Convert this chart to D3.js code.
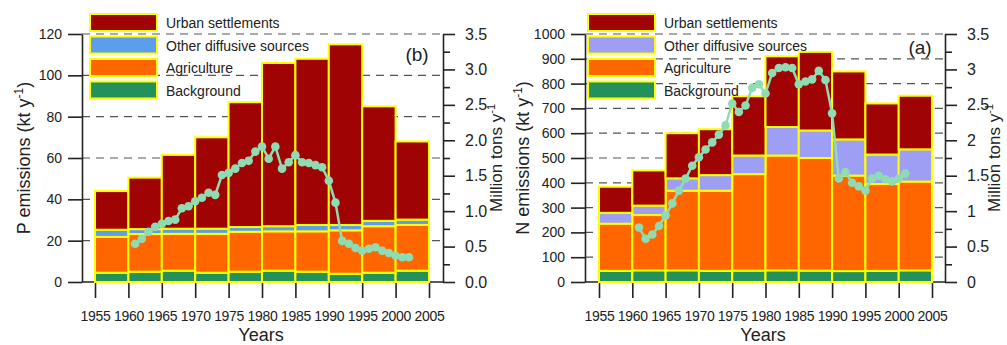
<!DOCTYPE html>
<html>
<head>
<meta charset="utf-8">
<script src="https://cdn.jsdelivr.net/npm/d3@7"></script>
<style>
  body { margin: 0; background: #fff; }
  svg { display: block; }
  text { font-family: "Liberation Sans", Arial, sans-serif; fill: #222; }
</style>
</head>
<body>
<svg id="chart" width="1007" height="345"></svg>
<script>
// Five-year periods (bar start years) and axis tick years
const periods = [1955, 1960, 1965, 1970, 1975, 1980, 1985, 1990, 1995, 2000];
const xTickYears = [1955, 1960, 1965, 1970, 1975, 1980, 1985, 1990, 1995, 2000, 2005];

// Source names, bottom to top of each stack
const sourceKeys = ["Background", "Agriculture", "Other diffusive sources", "Urban settlements"];
const legendOrder = ["Urban settlements", "Other diffusive sources", "Agriculture", "Background"];

// Phosphorus emissions per period (kt/y)
const P_background  = [4.5, 5, 5.5, 4.5, 5, 5.5, 5, 4, 4.5, 5.5];
const P_agriculture = [17.3, 18.2, 17.8, 18.8, 19.3, 19, 19.5, 21, 22.5, 22.1];
const P_other       = [3.5, 2.4, 2.5, 2.5, 2.3, 2.5, 3.1, 2.6, 2.6, 2.6];
const P_urban       = [18.7, 24.9, 35.7, 44.2, 60.4, 79, 80.4, 87.4, 55.4, 37.8];

// Nitrogen emissions per period (kt/y)
const N_background  = [45, 47, 47, 45, 46, 47, 46, 44, 45, 47];
const N_agriculture = [190, 223, 321, 323, 389, 463, 454, 385, 350, 358];
const N_other       = [44, 38, 50, 63, 75, 115, 111, 146, 119, 130];
const N_urban       = [105, 142, 182, 185, 239, 285, 317, 274, 206, 216];

// Annual fertilizer series (million tons/y), one value per year from 1961
const P_lineStart = 1961;
const P_line = [0.54, 0.61, 0.71, 0.78, 0.82, 0.86, 0.88, 1.04, 1.07, 1.14,
                1.19, 1.26, 1.23, 1.51, 1.54, 1.60, 1.68, 1.71, 1.84, 1.91,
                1.74, 1.91, 1.60, 1.69, 1.79, 1.69, 1.68, 1.65, 1.62, 1.43,
                1.12, 0.58, 0.54, 0.48, 0.44, 0.47, 0.49, 0.44, 0.41, 0.37,
                0.35, 0.35];
const N_lineStart = 1961;
const N_line = [0.77, 0.61, 0.67, 0.79, 0.94, 1.11, 1.29, 1.46, 1.64, 1.76,
                1.87, 1.97, 2.08, 2.21, 2.52, 2.40, 2.49, 2.74, 2.79, 2.66,
                2.95, 3.02, 3.03, 3.02, 2.79, 2.83, 2.86, 2.98, 2.85, 2.38,
                1.46, 1.55, 1.40, 1.35, 1.29, 1.46, 1.50, 1.45, 1.42, 1.46,
                1.53];

// Right-axis ticks (million tons/y)
const rightMajor = [0, 0.5, 1, 1.5, 2, 2.5, 3, 3.5];
const rightMinor = [0.25, 0.75, 1.25, 1.75, 2.25, 2.75, 3.25];

const svg = d3.select("#chart");
const yBottom = 282, yTop = 34;

function drawPanel(cfg) {
  const g = svg.append("g");
  const x = d3.scaleLinear().domain([1955, 2005]).range([cfg.xStart, cfg.xEnd]);
  const y = d3.scaleLinear().domain([0, cfg.yMax]).range([yBottom, yTop]);
  const y2 = d3.scaleLinear().domain([0, 3.5]).range([yBottom, yTop]);

  // dashed horizontal grid
  g.append("g").selectAll("line").data(cfg.leftTicks.filter(d => d > 0)).join("line")
    .attr("x1", cfg.axisLeftX).attr("x2", cfg.axisRightX)
    .attr("y1", d => y(d)).attr("y2", d => y(d))
    .attr("stroke", "#555").attr("stroke-width", 1.2).attr("stroke-dasharray", "8,6");

  // x axis
  const xAx = g.append("g").attr("transform", `translate(0,${yBottom})`)
    .call(d3.axisBottom(x).tickValues(xTickYears).tickFormat(d3.format("d"))
      .tickSize(16).tickPadding(13).tickSizeOuter(0));
  xAx.select(".domain").remove();
  xAx.selectAll(".tick line").attr("stroke", "#222").attr("stroke-width", 1.6);
  xAx.selectAll("text").attr("font-size", 14).attr("fill", "#222").attr("letter-spacing", -0.3);
  g.append("line").attr("x1", cfg.axisLeftX).attr("x2", cfg.axisRightX)
    .attr("y1", yBottom).attr("y2", yBottom).attr("stroke", "#222").attr("stroke-width", 1.6);

  // stacked bars
  const rows = periods.map((p, i) => ({
    period: p,
    "Background": cfg.background[i],
    "Agriculture": cfg.agriculture[i],
    "Other diffusive sources": cfg.other[i],
    "Urban settlements": cfg.urban[i]
  }));
  const stacked = d3.stack().keys(sourceKeys)(rows);
  g.append("g").selectAll("g").data(stacked).join("g")
    .attr("fill", d => cfg.colors[d.key])
    .selectAll("rect").data(d => d).join("rect")
    .attr("x", d => x(d.data.period))
    .attr("width", d => x(d.data.period + 5) - x(d.data.period))
    .attr("y", d => y(d[1]))
    .attr("height", d => y(d[0]) - y(d[1]))
    .attr("stroke", "#ffff00").attr("stroke-width", 2);

  // left axis
  const yAx = g.append("g").attr("transform", `translate(${cfg.axisLeftX},0)`)
    .call(d3.axisLeft(y).tickValues(cfg.leftTicks).tickFormat(d3.format("d"))
      .tickSize(14).tickPadding(6).tickSizeOuter(0));
  yAx.select(".domain").attr("stroke", "#222").attr("stroke-width", 1.6);
  yAx.selectAll(".tick line").attr("stroke", "#222").attr("stroke-width", 1.6);
  yAx.selectAll("text").attr("font-size", 14).attr("fill", "#222");

  // right axis (million tons)
  const rAx = g.append("g").attr("transform", `translate(${cfg.axisRightX},0)`)
    .call(d3.axisRight(y2).tickValues(rightMajor).tickFormat(cfg.rightFormat)
      .tickSize(12).tickPadding(10).tickSizeOuter(0));
  rAx.select(".domain").attr("stroke", "#222").attr("stroke-width", 1.6);
  rAx.selectAll(".tick line").attr("stroke", "#222").attr("stroke-width", 1.6);
  rAx.selectAll("text").attr("font-size", 16).attr("fill", "#222");
  const rMin = g.append("g").attr("transform", `translate(${cfg.axisRightX},0)`)
    .call(d3.axisRight(y2).tickValues(rightMinor).tickFormat("").tickSize(7).tickSizeOuter(0));
  rMin.select(".domain").remove();
  rMin.selectAll(".tick line").attr("stroke", "#222").attr("stroke-width", 1.6);

  // annual line with markers
  const pts = cfg.line.map((v, i) => ({ year: cfg.lineStart + i, v }));
  g.append("path").datum(pts)
    .attr("fill", "none").attr("stroke", "#8fdcb4").attr("stroke-width", 2.5)
    .attr("d", d3.line().x(d => x(d.year)).y(d => y2(d.v)));
  g.append("g").selectAll("circle").data(pts).join("circle")
    .attr("cx", d => x(d.year)).attr("cy", d => y2(d.v)).attr("r", 4.3)
    .attr("fill", "#8fdcb4");

  // legend
  const lg = g.append("g");
  legendOrder.forEach((k, i) => {
    const ly = 14 + i * 22.5;
    lg.append("rect").attr("x", cfg.legendX).attr("y", ly).attr("width", 67).attr("height", 17)
      .attr("fill", cfg.colors[k]).attr("stroke", "#ffff00").attr("stroke-width", 2);
    lg.append("text").attr("x", cfg.legendX + 76).attr("y", ly + 14)
      .attr("font-size", 14).text(k);
  });

  // panel tag
  g.append("text").attr("x", cfg.tagX).attr("y", cfg.tagY).attr("text-anchor", "middle")
    .attr("font-size", 19).text(cfg.tag);

  // axis titles
  const lt = g.append("text").attr("transform", `translate(${cfg.leftTitleX},158) rotate(-90)`)
    .attr("text-anchor", "middle").attr("y", 6).attr("font-size", 18);
  lt.append("tspan").text(cfg.leftTitle + " (kt y");
  lt.append("tspan").attr("dy", -7).attr("font-size", 12).text("-1");
  lt.append("tspan").attr("dy", 7).text(")");

  const rt = g.append("text").attr("transform", `translate(${cfg.rightTitleX},158) rotate(-90)`)
    .attr("text-anchor", "middle").attr("y", 6).attr("font-size", 17);
  rt.append("tspan").text("Million tons y");
  rt.append("tspan").attr("dy", -7).attr("font-size", 11).text("-1");

  g.append("text").attr("x", cfg.yearsX).attr("y", 341).attr("text-anchor", "middle")
    .attr("font-size", 18).text("Years");
}

drawPanel({
  xStart: 95, xEnd: 429, axisLeftX: 82, axisRightX: 443,
  yMax: 120, leftTicks: [0, 20, 40, 60, 80, 100, 120],
  background: P_background, agriculture: P_agriculture, other: P_other, urban: P_urban,
  colors: { "Background": "#23915a", "Agriculture": "#ff6600",
            "Other diffusive sources": "#5c9ded", "Urban settlements": "#a00303" },
  rightFormat: d3.format(".1f"),
  line: P_line, lineStart: P_lineStart,
  legendX: 90, tag: "(b)", tagX: 417, tagY: 61,
  leftTitle: "P emissions", leftTitleX: 24, rightTitleX: 496, yearsX: 261
});

drawPanel({
  xStart: 599, xEnd: 932, axisLeftX: 585, axisRightX: 945,
  yMax: 1000, leftTicks: [0, 100, 200, 300, 400, 500, 600, 700, 800, 900, 1000],
  background: N_background, agriculture: N_agriculture, other: N_other, urban: N_urban,
  colors: { "Background": "#23915a", "Agriculture": "#ff6600",
            "Other diffusive sources": "#9e9ef5", "Urban settlements": "#a00303" },
  rightFormat: d => String(d),
  line: N_line, lineStart: N_lineStart,
  legendX: 588, tag: "(a)", tagX: 920, tagY: 54,
  leftTitle: "N emissions", leftTitleX: 523, rightTitleX: 994, yearsX: 763
});
</script>
</body>
</html>
